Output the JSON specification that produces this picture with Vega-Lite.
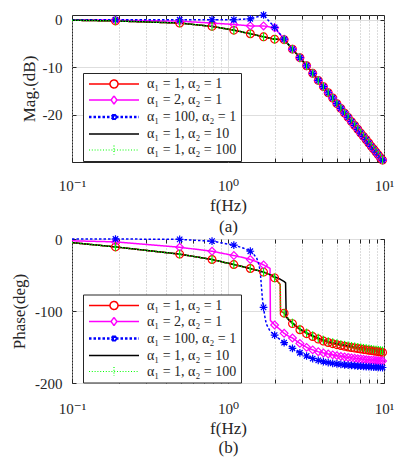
{
  "$schema": "https://vega.github.io/schema/vega-lite/v6.json",
  "padding": {"left": 10, "top": 8, "right": 5, "bottom": 5},
  "background": "white",
  "config": {
    "view": {"stroke": "#262626", "strokeWidth": 1},
    "font": "Liberation Serif",
    "axis": {"labelFont": "Liberation Serif, DejaVu Serif, serif", "titleFont": "Liberation Serif, DejaVu Serif, serif", "labelColor": "#262626", "titleColor": "#262626", "tickColor": "#262626", "titleFontWeight": "normal", "labelFontSize": 15, "titleFontSize": 17}
  },
  "datasets": {
    "mag": [
      {"f":0.1,"A":-0.1,"B":0,"C":0,"D":-0.1,"E":-0.1},
      {"f":0.19,"A":-0.25,"B":-0.1,"C":0,"D":-0.25,"E":-0.25},
      {"f":0.49,"A":-0.7,"B":-0.3,"C":0,"D":-0.7,"E":-0.7},
      {"f":0.79,"A":-1.4,"B":-0.7,"C":0,"D":-1.4,"E":-1.4},
      {"f":1.09,"A":-2.2,"B":-1.0,"C":0,"D":-2.2,"E":-2.2},
      {"f":1.39,"A":-2.95,"B":-1.3,"C":0.2,"D":-2.95,"E":-2.95},
      {"f":1.69,"A":-3.6,"B":-1.3,"C":1.0,"D":-3.6,"E":-3.6},
      {"f":1.99,"A":-4.1,"B":-1.7,"C":-1.6,"D":-4.1,"E":-4.1},
      {"f":2.29,"A":-4.2,"B":-4.1,"C":-4.1,"D":-4.2,"E":-4.2},
      {"f":2.59,"A":-6.2,"B":-6.2,"C":-6.2,"D":-6.2,"E":-6.2},
      {"f":2.89,"A":-8.0,"B":-8.0,"C":-8.0,"D":-8.0,"E":-8.0},
      {"f":3.19,"A":-9.7,"B":-9.7,"C":-9.7,"D":-9.7,"E":-9.7},
      {"f":3.49,"A":-11.3,"B":-11.3,"C":-11.3,"D":-11.3,"E":-11.3},
      {"f":3.79,"A":-12.8,"B":-12.8,"C":-12.8,"D":-12.8,"E":-12.8},
      {"f":4.09,"A":-14.1,"B":-14.1,"C":-14.1,"D":-14.1,"E":-14.1},
      {"f":4.39,"A":-15.4,"B":-15.4,"C":-15.4,"D":-15.4,"E":-15.4},
      {"f":4.69,"A":-16.5,"B":-16.5,"C":-16.5,"D":-16.5,"E":-16.5},
      {"f":4.99,"A":-17.7,"B":-17.7,"C":-17.7,"D":-17.7,"E":-17.7},
      {"f":5.29,"A":-18.7,"B":-18.7,"C":-18.7,"D":-18.7,"E":-18.7},
      {"f":5.59,"A":-19.7,"B":-19.7,"C":-19.7,"D":-19.7,"E":-19.7},
      {"f":5.89,"A":-20.6,"B":-20.6,"C":-20.6,"D":-20.6,"E":-20.6},
      {"f":6.19,"A":-21.5,"B":-21.5,"C":-21.5,"D":-21.5,"E":-21.5},
      {"f":6.49,"A":-22.3,"B":-22.3,"C":-22.3,"D":-22.3,"E":-22.3},
      {"f":6.79,"A":-23.1,"B":-23.1,"C":-23.1,"D":-23.1,"E":-23.1},
      {"f":7.09,"A":-23.9,"B":-23.9,"C":-23.9,"D":-23.9,"E":-23.9},
      {"f":7.39,"A":-24.6,"B":-24.6,"C":-24.6,"D":-24.6,"E":-24.6},
      {"f":7.69,"A":-25.3,"B":-25.3,"C":-25.3,"D":-25.3,"E":-25.3},
      {"f":7.99,"A":-26.0,"B":-26.0,"C":-26.0,"D":-26.0,"E":-26.0},
      {"f":8.29,"A":-26.7,"B":-26.7,"C":-26.7,"D":-26.7,"E":-26.7},
      {"f":8.59,"A":-27.3,"B":-27.3,"C":-27.3,"D":-27.3,"E":-27.3},
      {"f":8.89,"A":-27.9,"B":-27.9,"C":-27.9,"D":-27.9,"E":-27.9},
      {"f":9.19,"A":-28.5,"B":-28.5,"C":-28.5,"D":-28.5,"E":-28.5},
      {"f":9.49,"A":-29.1,"B":-29.1,"C":-29.1,"D":-29.1,"E":-29.1},
      {"f":9.79,"A":-29.6,"B":-29.6,"C":-29.6,"D":-29.6,"E":-29.6},
      {"f":10,"A":-30.0,"B":-30.0,"C":-30.0,"D":-30.0,"E":-30.0}
    ],
    "ph": [
      {"f":0.1,"A":-5,"B":-2.5,"C":0,"D":-5,"E":-5},
      {"f":0.19,"A":-11,"B":-4,"C":0,"D":-11,"E":-11},
      {"f":0.49,"A":-21,"B":-11.5,"C":-0.5,"D":-21,"E":-21},
      {"f":0.79,"A":-28.5,"B":-17,"C":-3,"D":-28.5,"E":-28.5},
      {"f":1.09,"A":-35.5,"B":-23,"C":-8.5,"D":-35.5,"E":-35.5},
      {"f":1.25,"A":-38.5,"B":-25.8,"C":-12.5,"D":-38.5,"E":-38.5},
      {"f":1.39,"A":-41,"B":-28.5,"C":-17,"D":-41,"E":-41},
      {"f":1.46,"A":-42.2,"B":-30,"C":-21,"D":-42.2,"E":-42.2},
      {"f":1.53,"A":-43.3,"B":-31.8,"C":-27,"D":-43.3,"E":-43.3},
      {"f":1.58,"A":-44.1,"B":-33,"C":-36,"D":-44.1,"E":-44.1},
      {"f":1.61,"A":-44.6,"B":-33.8,"C":-45,"D":-44.6,"E":-44.6},
      {"f":1.64,"A":-45.1,"B":-34.6,"C":-68,"D":-45.1,"E":-45.1},
      {"f":1.67,"A":-45.6,"B":-35.4,"C":-88,"D":-45.6,"E":-45.6},
      {"f":1.69,"A":-46,"B":-36,"C":-95,"D":-46,"E":-46},
      {"f":1.72,"A":-46.6,"B":-37,"C":-107,"D":-46.6,"E":-46.6},
      {"f":1.76,"A":-47.4,"B":-38,"C":-118,"D":-47.4,"E":-47.4},
      {"f":1.85,"A":-49.4,"B":-40.5,"C":-127,"D":-49.4,"E":-49.4},
      {"f":1.86,"A":-49.6,"B":-41,"C":-127.7,"D":-49.6,"E":-49.6},
      {"f":1.87,"A":-49.8,"B":-113,"C":-128.3,"D":-49.8,"E":-49.8},
      {"f":1.99,"A":-54,"B":-119.5,"C":-133.5,"D":-52.5,"E":-54},
      {"f":2.15,"A":-62.5,"B":-125.5,"C":-139.5,"D":-55.5,"E":-62.5},
      {"f":2.16,"A":-63,"B":-126,"C":-139.8,"D":-55.7,"E":-63},
      {"f":2.17,"A":-100,"B":-126.3,"C":-140.2,"D":-56,"E":-100},
      {"f":2.29,"A":-103,"B":-131,"C":-144,"D":-59,"E":-103},
      {"f":2.34,"A":-106,"B":-132.3,"C":-145.5,"D":-61,"E":-105.5},
      {"f":2.36,"A":-107.5,"B":-133,"C":-146,"D":-108,"E":-107},
      {"f":2.45,"A":-111.5,"B":-135,"C":-148.3,"D":-112.5,"E":-111},
      {"f":2.59,"A":-117.5,"B":-137.5,"C":-152,"D":-116.5,"E":-116.5},
      {"f":2.89,"A":-126,"B":-145,"C":-158,"D":-125,"E":-125},
      {"f":3.19,"A":-131.5,"B":-150.5,"C":-162.5,"D":-130.3,"E":-130.3},
      {"f":3.49,"A":-135.5,"B":-154,"C":-166,"D":-134.2,"E":-134.2},
      {"f":3.79,"A":-139,"B":-156.5,"C":-168.5,"D":-137.6,"E":-137.6},
      {"f":4.09,"A":-141.8,"B":-158.3,"C":-170.3,"D":-140.3,"E":-140.3},
      {"f":4.39,"A":-143.8,"B":-159.7,"C":-171.6,"D":-142.3,"E":-142.3},
      {"f":4.69,"A":-145.4,"B":-160.9,"C":-172.6,"D":-143.9,"E":-143.9},
      {"f":4.99,"A":-146.8,"B":-162,"C":-173.4,"D":-145.2,"E":-145.2},
      {"f":5.29,"A":-148,"B":-163,"C":-174.1,"D":-146.4,"E":-146.4},
      {"f":5.59,"A":-149,"B":-163.8,"C":-174.7,"D":-147.4,"E":-147.4},
      {"f":5.89,"A":-150,"B":-164.5,"C":-175.2,"D":-148.3,"E":-148.3},
      {"f":6.19,"A":-150.8,"B":-165.1,"C":-175.6,"D":-149.1,"E":-149.1},
      {"f":6.49,"A":-151.5,"B":-165.7,"C":-176,"D":-149.8,"E":-149.8},
      {"f":6.79,"A":-152.2,"B":-166.2,"C":-176.4,"D":-150.5,"E":-150.5},
      {"f":7.09,"A":-152.8,"B":-166.7,"C":-176.7,"D":-151.1,"E":-151.1},
      {"f":7.39,"A":-153.4,"B":-167.1,"C":-177,"D":-151.7,"E":-151.7},
      {"f":7.69,"A":-154,"B":-167.5,"C":-177.2,"D":-152.2,"E":-152.2},
      {"f":7.99,"A":-154.5,"B":-167.9,"C":-177.4,"D":-152.7,"E":-152.7},
      {"f":8.29,"A":-155,"B":-168.2,"C":-177.6,"D":-153.2,"E":-153.2},
      {"f":8.59,"A":-155.5,"B":-168.5,"C":-177.8,"D":-153.7,"E":-153.7},
      {"f":8.89,"A":-156,"B":-168.8,"C":-178,"D":-154.1,"E":-154.1},
      {"f":9.19,"A":-156.5,"B":-169.1,"C":-178.2,"D":-154.5,"E":-154.5},
      {"f":9.49,"A":-157,"B":-169.3,"C":-178.3,"D":-154.9,"E":-154.9},
      {"f":9.79,"A":-157.5,"B":-169.5,"C":-178.5,"D":-155.3,"E":-155.3},
      {"f":10,"A":-157.8,"B":-169.7,"C":-178.6,"D":-155.6,"E":-155.6}
    ]
  },
  "spacing": 77,
  "bounds": "flush",
  "resolve": {
    "scale": {"color": "independent", "shape": "independent", "strokeDash": "independent", "strokeWidth": "independent"},
    "legend": {"color": "independent"}
  },
  "vconcat": [
    {
      "width": 312,
      "height": 147,
      "data": {"name": "mag"},
      "resolve": {"axis": {"x": "independent", "y": "independent"}, "scale": {"strokeWidth": "independent"}},
      "layer": [
        {
          "transform": [{"fold": ["A", "B", "C", "D", "E"], "as": ["s", "v"]}],
          "mark": {"type": "line", "strokeCap": "butt"},
          "encoding": {
            "x": {"field": "f", "type": "quantitative", "scale": {"type": "log", "domain": [0.1, 10], "nice": false},
              "axis": {"orient": "bottom", "values": [0.1,0.2,0.3,0.4,0.5,0.6,0.7,0.8,0.9,1,2,3,4,5,6,7,8,9,10],
                "labelExpr": "datum.value===0.1?'10⁻¹':datum.value===1?'10⁰':datum.value===10?'10¹':''",
                "labelOverlap": false, "labelFlush": false, "labelBound": false, "labelPadding": 20, "tickSize": -4, "domain": false,
                "grid": true,
                "gridColor": {"condition": {"test": "datum.value===1", "value": "#dedede"}, "value": "#b8b8b8"},
                "gridDash": {"condition": {"test": "datum.value===1", "value": []}, "value": [1, 2]},
                "title": ["f(Hz)", "(a)"], "titleLineHeight": 21, "titlePadding": 4}},
            "y": {"field": "v", "type": "quantitative", "scale": {"domain": [-30, 1], "nice": false, "zero": false},
              "axis": {"values": [-20, -10, 0], "labelExpr": "toString(datum.value)", "labelPadding": 14, "tickSize": -4, "domain": false,
                "grid": true, "gridColor": "#dedede", "title": "Mag.(dB)", "titlePadding": 4}},
            "color": {"field": "s", "type": "nominal",
              "scale": {"domain": ["A", "B", "C", "D", "E"], "range": ["#ff0000", "#ff00ff", "#0000ff", "#000000", "#00ff00"]},
              "legend": {"orient": "none", "legendX": 11, "legendY": 58, "direction": "vertical", "title": null,
                "symbolSize": 100, "labelOffset": 46, "labelFont": "Liberation Serif, DejaVu Serif, serif", "labelFontSize": 14, "labelColor": "#262626",
                "rowPadding": 2, "padding": 4, "strokeColor": "#262626", "fillColor": "white", "cornerRadius": 0,
                "labelExpr": "datum.label==='A'?'α₁ = 1, α₂ = 1':datum.label==='B'?'α₁ = 2, α₂ = 1':datum.label==='C'?'α₁ = 100, α₂ = 1':datum.label==='D'?'α₁ = 1, α₂ = 10':'α₁ = 1, α₂ = 100'",
                "encode": {"symbols": {"update": {
                  "shape": {"signal": "datum.value==='A'?'M-1,0H3.2M4.8,0H9M3.2,0A0.8,0.8 0 1,0 4.8,0A0.8,0.8 0 1,0 3.2,0':datum.value==='B'?'M-1,0H3.4M4.6,0H9M3.4,0L4,-0.8L4.6,0L4,0.8Z':datum.value==='C'?'M-1,0H9M4,-0.6V0.6M3.55,-0.45L4.45,0.45M3.55,0.45L4.45,-0.45':datum.value==='D'?'M-1,0H9':'M-1,0H9M4,-0.9V0.9'"},
                  "strokeDash": {"signal": "datum.value==='C'?[2.5,2]:datum.value==='E'?[1,1.8]:[1,0]"},
                  "strokeWidth": {"signal": "datum.value==='C'?2.5:datum.value==='E'?1.2:1.5"},
                  "fill": {"value": "transparent"},
                  "opacity": {"value": 1}}}}}},
            "strokeDash": {"field": "s", "type": "nominal", "scale": {"domain": ["A", "B", "C", "D", "E"], "range": [[1, 0], [1, 0], [2.5, 2], [1, 0], [1, 1.8]]}, "legend": null},
            "strokeWidth": {"field": "s", "type": "ordinal", "scale": {"domain": ["A", "B", "C", "D", "E"], "range": [1.5, 1.5, 2.5, 1.5, 1.2]}, "legend": null}
          }
        },
        {
          "transform": [{"filter": "datum.f > 0.1 && datum.f < 10"}, {"fold": ["A", "B", "C", "E"], "as": ["s", "v"]}],
          "mark": {"type": "point", "filled": false, "opacity": 1},
          "encoding": {
            "x": {"field": "f", "type": "quantitative", "scale": {"type": "log", "domain": [0.1, 10], "nice": false},
              "axis": {"orient": "top", "values": [0.1,0.2,0.3,0.4,0.5,0.6,0.7,0.8,0.9,1,2,3,4,5,6,7,8,9,10], "labels": false, "tickSize": -4, "grid": false, "domain": false, "title": null}},
            "y": {"field": "v", "type": "quantitative", "scale": {"domain": [-30, 1], "nice": false, "zero": false},
              "axis": {"orient": "right", "values": [-20, -10, 0], "labels": false, "tickSize": -4, "grid": false, "domain": false, "title": null}},
            "color": {"field": "s", "type": "nominal", "legend": null},
            "shape": {"field": "s", "type": "nominal", "scale": {"domain": ["A", "B", "C", "E"], "range": ["circle", "diamond", "M-1,0H1M0,-1V1M-0.7,-0.7L0.7,0.7M-0.7,0.7L0.7,-0.7", "M0,-1.1V1.1"]}, "legend": null},
            "size": {"field": "s", "type": "ordinal", "scale": {"domain": ["A", "B", "C", "E"], "range": [60, 60, 30, 60]}, "legend": null},
            "strokeWidth": {"field": "s", "type": "ordinal", "scale": {"domain": ["A", "B", "C", "E"], "range": [1.2, 1.2, 2.6, 1.6]}, "legend": null}
          }
        }
      ]
    },
    {
      "width": 312,
      "height": 144,
      "data": {"name": "ph"},
      "resolve": {"axis": {"x": "independent", "y": "independent"}, "scale": {"strokeWidth": "independent"}},
      "layer": [
        {
          "transform": [{"fold": ["A", "B", "C", "D", "E"], "as": ["s", "v"]}],
          "mark": {"type": "line", "strokeCap": "butt"},
          "encoding": {
            "x": {"field": "f", "type": "quantitative", "scale": {"type": "log", "domain": [0.1, 10], "nice": false},
              "axis": {"orient": "bottom", "values": [0.1,0.2,0.3,0.4,0.5,0.6,0.7,0.8,0.9,1,2,3,4,5,6,7,8,9,10],
                "labelExpr": "datum.value===0.1?'10⁻¹':datum.value===1?'10⁰':datum.value===10?'10¹':''",
                "labelOverlap": false, "labelFlush": false, "labelBound": false, "labelPadding": 22, "tickSize": -4, "domain": false,
                "grid": true,
                "gridColor": {"condition": {"test": "datum.value===1", "value": "#dedede"}, "value": "#b8b8b8"},
                "gridDash": {"condition": {"test": "datum.value===1", "value": []}, "value": [1, 2]},
                "title": ["f(Hz)", "(b)"], "titleLineHeight": 19, "titlePadding": 4}},
            "y": {"field": "v", "type": "quantitative", "scale": {"domain": [-200, 0], "nice": false, "zero": false},
              "axis": {"values": [-200, -100, 0], "labelExpr": "toString(datum.value)", "labelPadding": 14, "tickSize": -4, "domain": false,
                "grid": true, "gridColor": "#dedede", "title": "Phase(deg)", "titlePadding": 6}},
            "color": {"field": "s", "type": "nominal",
              "scale": {"domain": ["A", "B", "C", "D", "E"], "range": ["#ff0000", "#ff00ff", "#0000ff", "#000000", "#00ff00"]},
              "legend": {"orient": "none", "legendX": 11, "legendY": 55.5, "direction": "vertical", "title": null,
                "symbolSize": 100, "labelOffset": 46, "labelFont": "Liberation Serif, DejaVu Serif, serif", "labelFontSize": 14, "labelColor": "#262626",
                "rowPadding": 2, "padding": 4, "strokeColor": "#262626", "fillColor": "white", "cornerRadius": 0,
                "labelExpr": "datum.label==='A'?'α₁ = 1, α₂ = 1':datum.label==='B'?'α₁ = 2, α₂ = 1':datum.label==='C'?'α₁ = 100, α₂ = 1':datum.label==='D'?'α₁ = 1, α₂ = 10':'α₁ = 1, α₂ = 100'",
                "encode": {"symbols": {"update": {
                  "shape": {"signal": "datum.value==='A'?'M-1,0H3.2M4.8,0H9M3.2,0A0.8,0.8 0 1,0 4.8,0A0.8,0.8 0 1,0 3.2,0':datum.value==='B'?'M-1,0H3.4M4.6,0H9M3.4,0L4,-0.8L4.6,0L4,0.8Z':datum.value==='C'?'M-1,0H9M4,-0.6V0.6M3.55,-0.45L4.45,0.45M3.55,0.45L4.45,-0.45':datum.value==='D'?'M-1,0H9':'M-1,0H9M4,-0.9V0.9'"},
                  "strokeDash": {"signal": "datum.value==='C'?[2.5,2]:datum.value==='E'?[1,1.8]:[1,0]"},
                  "strokeWidth": {"signal": "datum.value==='C'?2.5:datum.value==='E'?1.2:1.5"},
                  "fill": {"value": "transparent"},
                  "opacity": {"value": 1}}}}}},
            "strokeDash": {"field": "s", "type": "nominal", "scale": {"domain": ["A", "B", "C", "D", "E"], "range": [[1, 0], [1, 0], [2.5, 2], [1, 0], [1, 1.8]]}, "legend": null},
            "strokeWidth": {"field": "s", "type": "ordinal", "scale": {"domain": ["A", "B", "C", "D", "E"], "range": [1.5, 1.5, 2.5, 1.5, 1.2]}, "legend": null}
          }
        },
        {
          "transform": [{"filter": {"field": "f", "oneOf": [0.19,0.49,0.79,1.09,1.39,1.69,1.99,2.29,2.59,2.89,3.19,3.49,3.79,4.09,4.39,4.69,4.99,5.29,5.59,5.89,6.19,6.49,6.79,7.09,7.39,7.69,7.99,8.29,8.59,8.89,9.19,9.49,9.79]}}, {"fold": ["A", "B", "C", "E"], "as": ["s", "v"]}],
          "mark": {"type": "point", "filled": false, "opacity": 1},
          "encoding": {
            "x": {"field": "f", "type": "quantitative", "scale": {"type": "log", "domain": [0.1, 10], "nice": false},
              "axis": {"orient": "top", "values": [0.1,0.2,0.3,0.4,0.5,0.6,0.7,0.8,0.9,1,2,3,4,5,6,7,8,9,10], "labels": false, "tickSize": -4, "grid": false, "domain": false, "title": null}},
            "y": {"field": "v", "type": "quantitative", "scale": {"domain": [-200, 0], "nice": false, "zero": false},
              "axis": {"orient": "right", "values": [-200, -100, 0], "labels": false, "tickSize": -4, "grid": false, "domain": false, "title": null}},
            "color": {"field": "s", "type": "nominal", "legend": null},
            "shape": {"field": "s", "type": "nominal", "scale": {"domain": ["A", "B", "C", "E"], "range": ["circle", "diamond", "M-1,0H1M0,-1V1M-0.7,-0.7L0.7,0.7M-0.7,0.7L0.7,-0.7", "M0,-1.1V1.1"]}, "legend": null},
            "size": {"field": "s", "type": "ordinal", "scale": {"domain": ["A", "B", "C", "E"], "range": [60, 60, 30, 60]}, "legend": null},
            "strokeWidth": {"field": "s", "type": "ordinal", "scale": {"domain": ["A", "B", "C", "E"], "range": [1.2, 1.2, 2.6, 1.6]}, "legend": null}
          }
        }
      ]
    }
  ]
}
